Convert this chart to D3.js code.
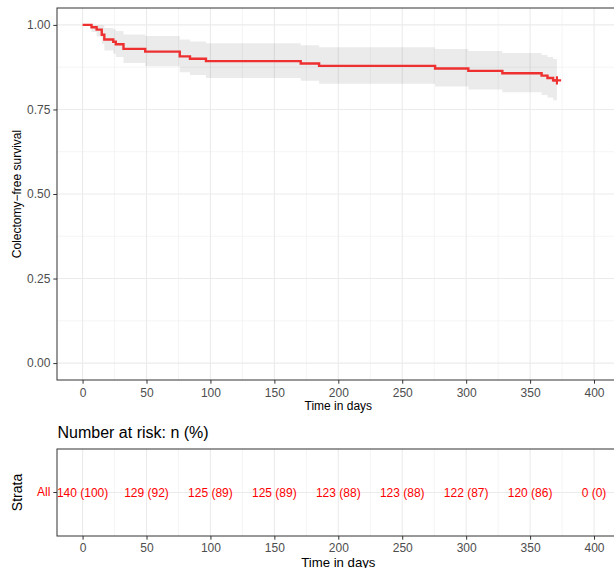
<!DOCTYPE html>
<html>
<head>
<meta charset="utf-8">
<script src="https://cdn.jsdelivr.net/npm/d3@7"></script>
<style>
  html, body { margin: 0; padding: 0; background: #fff; }
  svg { display: block; font-family: "Liberation Sans", Arial, Helvetica, sans-serif; }
</style>
</head>
<body>
<svg id="chart" width="614" height="568"></svg>
<script>
// ---- Data ----
const stepTimes = [0, 7, 11, 15, 17, 24, 26, 32, 49, 76, 84, 96.5, 170.6, 185, 275.7, 301.7, 328.3, 359, 363.6, 368, 371];
const survival  = [1, 0.993, 0.986, 0.971, 0.957, 0.950, 0.943, 0.929, 0.921, 0.907, 0.900, 0.893, 0.886, 0.879, 0.871, 0.864, 0.857, 0.850, 0.843, 0.836, 0.836];
const upperCI   = [1, 1, 1, 0.999, 0.991, 0.987, 0.982, 0.972, 0.967, 0.957, 0.951, 0.946, 0.940, 0.934, 0.929, 0.923, 0.917, 0.911, 0.905, 0.899, 0.899];
const lowerCI   = [1, 0.979, 0.966, 0.944, 0.924, 0.915, 0.905, 0.887, 0.878, 0.860, 0.852, 0.843, 0.835, 0.826, 0.818, 0.809, 0.801, 0.793, 0.785, 0.777, 0.777];
const censorTimes = [371];
const censorSurv  = [0.836];

const xTicks = [0, 50, 100, 150, 200, 250, 300, 350, 400];
const xMinor = [25, 75, 125, 175, 225, 275, 325, 375];
const yTicks = [0, 0.25, 0.5, 0.75, 1];
const yTickLabels = ["0.00", "0.25", "0.50", "0.75", "1.00"];
const yMinor = [0.125, 0.375, 0.625, 0.875];

const riskTimes  = [0, 50, 100, 150, 200, 250, 300, 350, 400];
const riskLabels = ["140 (100)", "129 (92)", "125 (89)", "125 (89)", "123 (88)", "123 (88)", "122 (87)", "120 (86)", "0 (0)"];
const strata = ["All"];

// ---- Layout ----
const svg = d3.select("#chart");
const panelL = 57, panelR = 619.6;
const top1 = 8, bot1 = 380;
const top2 = 449, bot2 = 536;
const gridCol = "#EBEBEB", borderCol = "#333333", tickTextCol = "#4D4D4D";
const lineCol = "#EE3030";

const x = d3.scaleLinear().domain([-20, 420]).range([panelL, panelR]);
const y = d3.scaleLinear().domain([-0.05, 1.05]).range([bot1, top1]);
const yRisk = d3.scaleBand().domain(strata).range([bot2, top2]).paddingInner(0);

// ---- Top panel ----
const g1 = svg.append("g");
g1.append("rect").attr("x", panelL).attr("y", top1).attr("width", panelR - panelL).attr("height", bot1 - top1).attr("fill", "#fff");
// minor grid
g1.selectAll(".xmin").data(xMinor).enter().append("line")
  .attr("x1", d => x(d)).attr("x2", d => x(d)).attr("y1", top1).attr("y2", bot1)
  .attr("stroke", gridCol).attr("stroke-width", 0.55);
g1.selectAll(".ymin").data(yMinor).enter().append("line")
  .attr("x1", panelL).attr("x2", panelR).attr("y1", d => y(d)).attr("y2", d => y(d))
  .attr("stroke", gridCol).attr("stroke-width", 0.55);
// major grid
g1.selectAll(".xmaj").data(xTicks).enter().append("line")
  .attr("x1", d => x(d)).attr("x2", d => x(d)).attr("y1", top1).attr("y2", bot1)
  .attr("stroke", gridCol).attr("stroke-width", 1.1);
g1.selectAll(".ymaj").data(yTicks).enter().append("line")
  .attr("x1", panelL).attr("x2", panelR).attr("y1", d => y(d)).attr("y2", d => y(d))
  .attr("stroke", gridCol).attr("stroke-width", 1.1);

const kmData = stepTimes.map((t, i) => ({ t, s: survival[i], lo: lowerCI[i], hi: upperCI[i] }));
const bandData = kmData.filter(d => d.t >= 7);
const area = d3.area().curve(d3.curveStepAfter)
  .x(d => x(d.t)).y0(d => y(d.lo)).y1(d => y(d.hi));
g1.append("path").datum(bandData).attr("d", area)
  .attr("fill", "#000").attr("fill-opacity", 0.08);

const line = d3.line().curve(d3.curveStepAfter).x(d => x(d.t)).y(d => y(d.s));
g1.append("path").datum(kmData).attr("d", line)
  .attr("fill", "none").attr("stroke", lineCol).attr("stroke-width", 2.4);

// censor marks
censorTimes.forEach((t, i) => {
  const cx = x(t), cy = y(censorSurv[i]);
  g1.append("path").attr("d", `M${cx - 4.2},${cy}H${cx + 4.2}M${cx},${cy - 4.2}V${cy + 4.2}`)
    .attr("stroke", lineCol).attr("stroke-width", 2.1).attr("fill", "none");
});

g1.append("rect").attr("x", panelL).attr("y", top1).attr("width", panelR - panelL).attr("height", bot1 - top1)
  .attr("fill", "none").attr("stroke", borderCol).attr("stroke-width", 1);

// axes top
const xAxis1 = svg.append("g").attr("transform", `translate(0,${bot1})`)
  .call(d3.axisBottom(x).tickValues(xTicks).tickSize(3.7).tickPadding(4.3).tickFormat(d3.format("d")));
const yAxis1 = svg.append("g").attr("transform", `translate(${panelL},0)`)
  .call(d3.axisLeft(y).tickValues(yTicks).tickSize(3.7).tickPadding(2.9).tickFormat((d, i) => yTickLabels[i]));
[xAxis1, yAxis1].forEach(a => {
  a.select(".domain").remove();
  a.selectAll(".tick line").attr("stroke", borderCol).attr("stroke-width", 1);
  a.selectAll(".tick text").attr("fill", tickTextCol).attr("font-size", 12).attr("font-family", null);
});

svg.append("text").attr("x", (panelL + panelR) / 2).attr("y", 409.5)
  .attr("text-anchor", "middle").attr("font-size", 12).attr("fill", "#000").text("Time in days");
svg.append("text").attr("transform", `translate(21,${(top1 + bot1) / 2}) rotate(-90)`)
  .attr("text-anchor", "middle").attr("font-size", 12).attr("fill", "#000").text("Colectomy\u2212free survival");

// ---- Risk table ----
svg.append("text").attr("x", 57.5).attr("y", 438).attr("font-size", 16).attr("fill", "#000")
  .text("Number at risk: n (%)");

const g2 = svg.append("g");
g2.append("rect").attr("x", panelL).attr("y", top2).attr("width", panelR - panelL).attr("height", bot2 - top2).attr("fill", "#fff");
g2.selectAll(".xmin2").data(xMinor).enter().append("line")
  .attr("x1", d => x(d)).attr("x2", d => x(d)).attr("y1", top2).attr("y2", bot2)
  .attr("stroke", gridCol).attr("stroke-width", 0.55);
g2.selectAll(".xmaj2").data(xTicks).enter().append("line")
  .attr("x1", d => x(d)).attr("x2", d => x(d)).attr("y1", top2).attr("y2", bot2)
  .attr("stroke", gridCol).attr("stroke-width", 1.1);
g2.selectAll(".ymaj2").data(strata).enter().append("line")
  .attr("x1", panelL).attr("x2", panelR)
  .attr("y1", d => yRisk(d) + yRisk.bandwidth() / 2).attr("y2", d => yRisk(d) + yRisk.bandwidth() / 2)
  .attr("stroke", gridCol).attr("stroke-width", 1.1);

g2.selectAll(".risk").data(riskTimes).enter().append("text")
  .attr("x", d => x(d)).attr("y", yRisk("All") + yRisk.bandwidth() / 2)
  .attr("dy", "0.35em").attr("text-anchor", "middle").attr("font-size", 12).attr("fill", "#FF0000")
  .text((d, i) => riskLabels[i]);

g2.append("rect").attr("x", panelL).attr("y", top2).attr("width", panelR - panelL).attr("height", bot2 - top2)
  .attr("fill", "none").attr("stroke", borderCol).attr("stroke-width", 1);

const xAxis2 = svg.append("g").attr("transform", `translate(0,${bot2})`)
  .call(d3.axisBottom(x).tickValues(xTicks).tickSize(3.7).tickPadding(3.3).tickFormat(d3.format("d")));
xAxis2.select(".domain").remove();
xAxis2.selectAll(".tick line").attr("stroke", borderCol);
xAxis2.selectAll(".tick text").attr("fill", tickTextCol).attr("font-size", 12).attr("font-family", null);

const yAxis2 = svg.append("g").attr("transform", `translate(${panelL},0)`)
  .call(d3.axisLeft(yRisk).tickSize(3.7).tickPadding(2.9));
yAxis2.select(".domain").remove();
yAxis2.selectAll(".tick line").attr("stroke", borderCol);
yAxis2.selectAll(".tick text").attr("fill", "#FF0000").attr("font-size", 12).attr("font-family", null);

svg.append("text").attr("x", (panelL + panelR) / 2).attr("y", 566.5)
  .attr("text-anchor", "middle").attr("font-size", 13.2).attr("fill", "#000").text("Time in days");
svg.append("text").attr("transform", `translate(21.5,${(top2 + bot2) / 2}) rotate(-90)`)
  .attr("text-anchor", "middle").attr("font-size", 14).attr("fill", "#000").text("Strata");
</script>
</body>
</html>
